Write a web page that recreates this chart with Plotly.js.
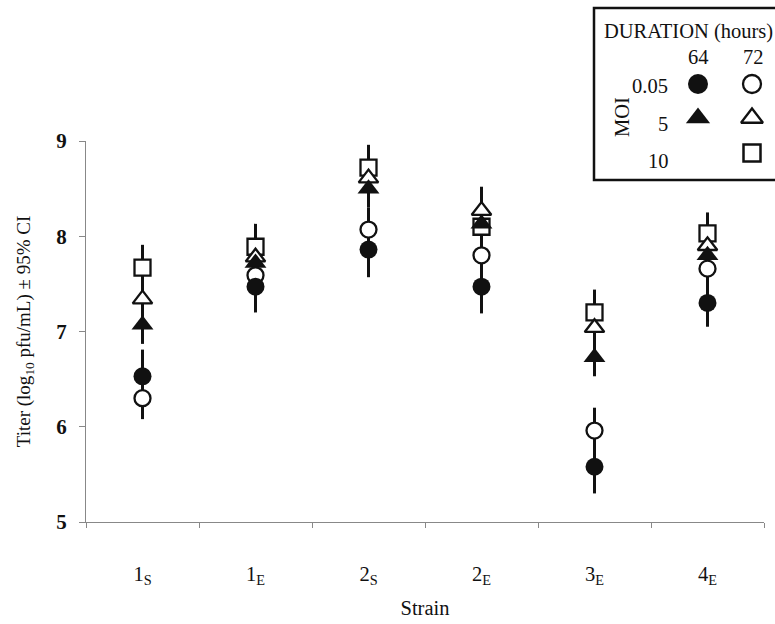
<!DOCTYPE html>
<html>
<head>
<meta charset="utf-8">
<script src="https://cdn.plot.ly/plotly-3.0.1.min.js"></script>
<style>html,body{margin:0;padding:0;background:#fff;}#chart{width:775px;height:624px;}</style>
</head>
<body>
<div id="chart"></div>
<script>
// ---- data ----
const strains = ['1S', '1E', '2S', '2E', '3E', '4E'];
const strainLabels = ['1<sub>S</sub>', '1<sub>E</sub>', '2<sub>S</sub>', '2<sub>E</sub>', '3<sub>E</sub>', '4<sub>E</sub>'];

const moi005_64h = [6.53, 7.47, 7.86, 7.47, 5.58, 7.30];
const moi005_64h_ci = [0.28, 0.27, 0.29, 0.28, 0.28, 0.25];
const moi005_72h = [6.30, 7.59, 8.07, 7.80, 5.96, 7.66];
const moi005_72h_ci = [0.22, 0.23, 0.23, 0.23, 0.24, 0.23];
const moi5_64h = [7.07, 7.72, 8.50, 8.13, 6.73, 7.80];
const moi5_64h_ci = [0.20, 0.20, 0.20, 0.20, 0.20, 0.20];
const moi5_72h = [7.34, 7.78, 8.61, 8.27, 7.04, 7.90];
const moi5_72h_ci = [0.22, 0.22, 0.22, 0.25, 0.22, 0.22];
const moi10_72h = [7.67, 7.89, 8.72, 8.10, 7.20, 8.03];
const moi10_72h_ci = [0.24, 0.24, 0.24, 0.24, 0.24, 0.22];

const yTicks = [5, 6, 7, 8, 9];

// ---- styling ----
const W = 775, H = 624;
const PL = 86, PR = 764, PT = 141, PB = 522;   // plot box in pixels
const FONT = 'Liberation Serif, Times New Roman, serif';
const INK = '#111';

const series = [
  {y: moi10_72h, ci: moi10_72h_ci, symbol: 'square', fill: 'white', size: 16},
  {y: moi5_72h, ci: moi5_72h_ci, symbol: 'triangle-up', fill: 'white', size: 17},
  {y: moi5_64h, ci: moi5_64h_ci, symbol: 'triangle-up', fill: INK, size: 19},
  {y: moi005_72h, ci: moi005_72h_ci, symbol: 'circle', fill: 'white', size: 16},
  {y: moi005_64h, ci: moi005_64h_ci, symbol: 'circle', fill: INK, size: 18}
];

const traces = [];
// error bars first (under all markers)
series.forEach(s => {
  traces.push({
    type: 'scatter', mode: 'markers', x: strains, y: s.y,
    marker: {size: 1, color: 'rgba(0,0,0,0)'},
    error_y: {type: 'data', array: s.ci, visible: true, color: INK, thickness: 3, width: 0},
    hoverinfo: 'skip', showlegend: false
  });
});
series.forEach(s => {
  traces.push({
    type: 'scatter', mode: 'markers', x: strains, y: s.y,
    marker: {symbol: s.symbol, size: s.size, color: s.fill, opacity: 1,
             line: {color: INK, width: s.fill === 'white' ? 2.3 : 0}},
    showlegend: false, cliponaxis: false
  });
});

// legend key drawn on a full-page pixel overlay axis pair
const legMarkers = {
  x: [698, 752, 698, 752, 752],
  y: [84, 84, 118, 118, 153],
  symbol: ['circle', 'circle', 'triangle-up', 'triangle-up', 'square'],
  fill: [INK, 'white', INK, 'white', 'white'],
  size: [20, 18, 21, 19, 17],
  lw: [0, 2.3, 0, 2.3, 2.5]
};
traces.push({
  type: 'scatter', mode: 'markers', xaxis: 'x2', yaxis: 'y2',
  x: legMarkers.x, y: legMarkers.y, cliponaxis: false,
  marker: {symbol: legMarkers.symbol, size: legMarkers.size, color: legMarkers.fill, opacity: 1,
           line: {color: INK, width: legMarkers.lw}},
  showlegend: false, hoverinfo: 'skip'
});

function ann(x, y, text, extra) {
  return Object.assign({xref: 'x2', yref: 'y2', x: x, y: y, text: text, showarrow: false,
    font: {family: FONT, size: 20.5, color: INK}, xanchor: 'center', yanchor: 'middle'}, extra || {});
}

const layout = {
  width: W, height: H,
  margin: {l: 0, r: 0, t: 0, b: 0, autoexpand: false},
  paper_bgcolor: 'white', plot_bgcolor: 'rgba(0,0,0,0)',
  font: {family: FONT, size: 20, color: INK},
  showlegend: false,
  xaxis: {
    domain: [PL / W, PR / W], anchor: 'y',
    type: 'category', categoryarray: strains, tickvals: strains, ticktext: strainLabels,
    tickson: 'boundaries', ticks: 'outside', ticklen: 5, tickcolor: '#888',
    showline: true, linecolor: '#888', linewidth: 1, showgrid: false, zeroline: false,
    tickfont: {family: FONT, size: 20.5, color: INK}, ticklabelstandoff: 33,
    range: [-0.5, 5.5], automargin: false,
    title: {text: 'Strain', font: {family: FONT, size: 20.5, color: INK}, standoff: 13}
  },
  yaxis: {
    domain: [(H - PB) / H, (H - PT) / H], anchor: 'x',
    range: [5, 9], tickvals: yTicks, ticktext: yTicks.map(v => '<b>' + v + '</b>'),
    ticks: 'outside', ticklen: 6, tickcolor: '#888',
    showline: true, linecolor: '#888', linewidth: 1, showgrid: false, zeroline: false,
    tickfont: {family: FONT, size: 21, color: INK}, ticklabelstandoff: 8, automargin: false,
    title: {text: 'Titer (log<sub>10</sub> pfu/mL) ± 95% CI', font: {family: FONT, size: 19, color: INK}, standoff: 20}
  },
  xaxis2: {domain: [0, 1], anchor: 'y2', range: [0, W], visible: false, fixedrange: true},
  yaxis2: {domain: [0, 1], anchor: 'x2', range: [H, 0], visible: false, fixedrange: true},
  shapes: [
    {type: 'rect', xref: 'x2', yref: 'y2', x0: 594, x1: 790, y0: 8, y1: 180,
     line: {color: INK, width: 2.5}, fillcolor: 'white', layer: 'below'}
  ],
  annotations: [
    ann(602, 31, 'DURATION (hours)', {xanchor: 'left'}),
    ann(698, 57, '64'),
    ann(753, 57, '72'),
    ann(650, 86, '0.05'),
    ann(663, 124, '5'),
    ann(658, 161, '10'),
    ann(622, 117, 'MOI', {textangle: -90})
  ]
};

Plotly.newPlot('chart', traces, layout, {staticPlot: true, displayModeBar: false});
</script>
</body>
</html>
